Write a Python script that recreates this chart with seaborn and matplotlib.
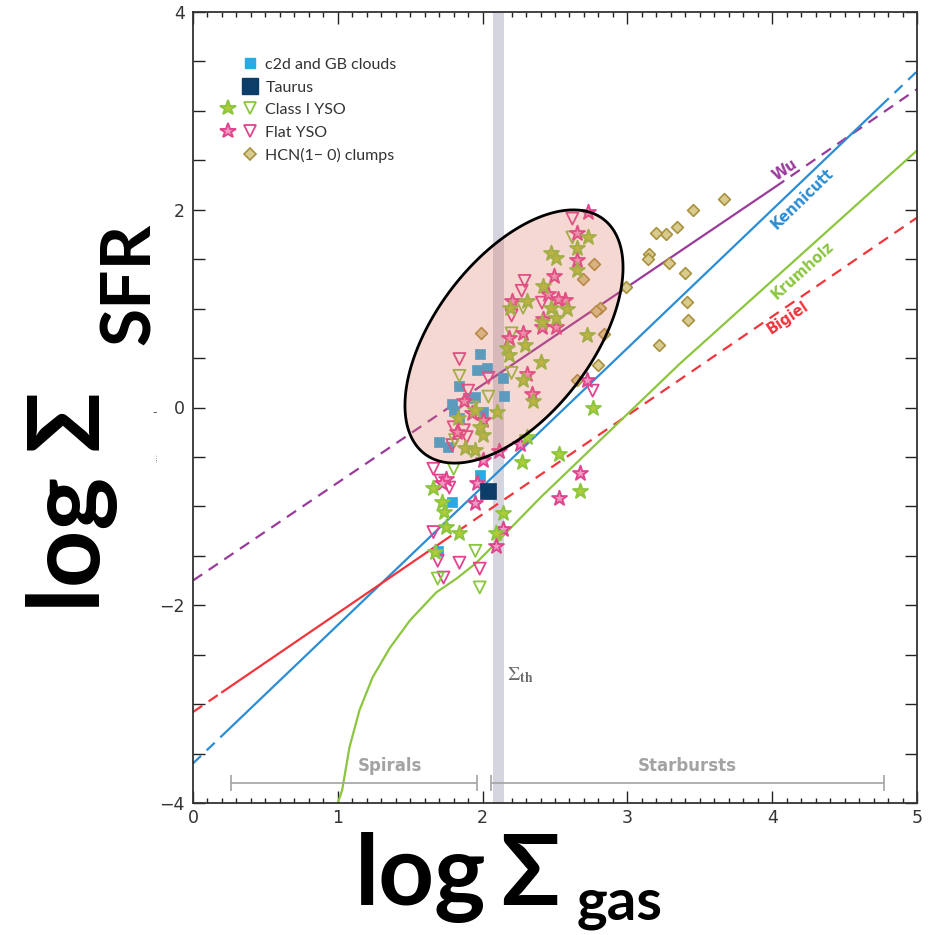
import numpy as np
import pandas as pd
import matplotlib
matplotlib.use("Agg")
import matplotlib.pyplot as plt
import seaborn as sns
from matplotlib.patches import Polygon
from matplotlib.lines import Line2D
from matplotlib.legend_handler import HandlerTuple

# ---------------- data ----------------
c2d_x = [1.98, 1.96, 2.03, 2.14, 1.84, 2.15, 1.95, 1.90, 1.79, 1.80, 2.00, 1.84, 1.70, 1.76, 1.98, 1.79, 1.69]
c2d_y = [0.54, 0.38, 0.40, 0.30, 0.22, 0.12, 0.11, 0.10, 0.04, -0.04, -0.05, -0.11, -0.35, -0.40, -0.68, -0.96, -1.45]

taurus_x = [2.04]
taurus_y = [-0.84]

classI_star_x = [1.66, 1.72, 1.73, 1.75, 1.84, 1.67, 2.14, 2.09, 2.31, 2.27, 2.53, 2.76, 2.67, 2.10, 2.72,
                 1.83, 1.95, 2.00, 1.98, 2.28, 2.35, 1.88, 1.95, 2.17, 2.29, 2.40,
                 2.73, 2.65, 2.47, 2.51, 2.65, 2.42, 2.47, 2.51, 2.58, 2.31, 2.19, 2.41, 2.18]
classI_star_y = [-0.81, -0.96, -1.06, -1.21, -1.27, -1.46, -1.07, -1.27, -0.30, -0.55, -0.47, 0.00, -0.84, -0.05, 0.73,
                 -0.11, -0.03, -0.28, -0.20, 0.28, 0.07, -0.41, -0.43, 0.60, 0.63, 0.46,
                 1.72, 1.61, 1.56, 1.51, 1.39, 1.23, 1.01, 0.91, 1.00, 1.08, 1.01, 0.86, 0.53]

flat_star_x = [1.75, 1.72, 1.96, 1.95, 2.14, 2.09, 2.26, 2.67, 2.53, 2.11, 2.00, 2.72,
               1.87, 2.00, 1.82, 1.93, 2.31, 2.34, 2.18, 2.28,
               2.73, 2.65, 2.65, 2.49, 2.20, 2.57, 2.52, 2.51, 2.42, 2.45, 2.41]
flat_star_y = [-0.72, -0.76, -0.76, -0.97, -1.23, -1.40, -0.37, -0.66, -0.92, -0.44, -0.53, 0.28,
               0.07, -0.13, -0.25, -0.06, 0.34, 0.14, 0.70, 0.75,
               1.98, 1.76, 1.49, 1.33, 1.08, 1.09, 1.10, 0.81, 0.90, 1.15, 0.81]

classI_tri_x = [1.95, 1.69, 1.98, 1.80, 1.84, 2.04, 2.20, 1.93, 1.81, 2.62, 2.28, 2.20]
classI_tri_y = [-1.45, -1.73, -1.82, -0.62, 0.32, 0.11, 0.35, 0.00, -0.33, 1.72, 1.01, 0.75]

flat_tri_x = [1.66, 1.69, 1.84, 1.98, 1.73, 1.77, 1.66, 1.71, 1.84, 2.04, 1.90, 1.80, 1.87, 1.89, 1.79,
              2.76, 2.62, 2.29, 2.27, 2.41, 2.20]
flat_tri_y = [-1.26, -1.55, -1.57, -1.63, -1.72, -0.81, -0.62, -0.74, 0.49, 0.30, 0.17, -0.20, -0.23, -0.30, -0.38,
              0.17, 1.91, 1.28, 1.18, 1.06, 0.93]

hcn_x = [3.67, 3.45, 3.34, 3.27, 3.20, 3.15, 3.14, 3.29, 3.40, 2.99, 3.41, 3.42, 3.22, 2.81, 2.84,
         2.77, 2.69, 2.78, 2.80, 2.65, 1.99]
hcn_y = [2.11, 2.00, 1.83, 1.75, 1.76, 1.55, 1.50, 1.46, 1.36, 1.22, 1.07, 0.89, 0.63, 1.01, 0.74,
         1.45, 1.30, 0.98, 0.43, 0.28, 0.75]

# relations (break points where the line style changes)
wu_x = [0.0, 1.98, 4.02, 5.0]
wu_y = [-1.75, 0.21, 2.23, 3.22]
kenn_x = [0.0, 0.20, 4.75, 5.0]
kenn_y = [-3.60, -3.32, 3.05, 3.40]
bigiel_x = [0.0, 0.20, 1.72, 5.0]
bigiel_y = [-3.08, -2.88, -1.36, 1.92]
krum_x = [1.00, 1.03, 1.08, 1.15, 1.24, 1.36, 1.50, 1.68, 1.82, 1.95, 2.12, 2.40, 3.36, 5.00]
krum_y = [-4.00, -3.87, -3.44, -3.06, -2.73, -2.43, -2.15, -1.87, -1.73, -1.58, -1.33, -0.91, 0.44, 2.60]

x_ticks = [0, 1, 2, 3, 4, 5]
y_ticks = [-4, -2, 0, 2, 4]
y_tick_labels = ["\u22124", "\u22122", "0", "2", "4"]

# ---------------- style ----------------
sns.set_theme(style="ticks")
plt.rcParams["font.family"] = ["DejaVu Sans"]
plt.rcParams["mathtext.fontset"] = "stix"

C_BLUE_SQ = "#2aaae2"
C_TAURUS = "#0c3d68"
C_GREEN = "#8cc63f"
C_GREEN_FACE = "#b2cc35"
C_PINK = "#e2438f"
C_PINK_FACE = "#f29ac4"
C_HCN_FACE = "#d9cb8e"
C_HCN_EDGE = "#a8923f"
C_WU = "#9a3b9c"
C_KENN = "#2b8dd4"
C_BIGIEL = "#f0353b"
TICKFONT = ["Liberation Sans Narrow", "DejaVu Sans"]

W, H = 932, 935
fig = plt.figure(figsize=(W / 100, H / 100), dpi=100)
ax = fig.add_axes([193 / W, 1 - 803 / H, (917 - 193) / W, (803 - 12) / H])
ax.set_facecolor("white")

ax.set_xlim(0, 5)
ax.set_ylim(-4, 4)

# threshold band
ax.axvspan(2.07, 2.15, color="#d5d5df", zorder=1, lw=0)

# relations
def seg(xs, ys, i, j):
    return pd.DataFrame({"x": xs[i:j + 1], "y": ys[i:j + 1]})

LW = 1.6
DASH = (0, (5, 3.5))
for (xs, ys, col, parts) in [
    (wu_x, wu_y, C_WU, [(0, 1, DASH), (1, 2, "-"), (2, 3, DASH)]),
    (kenn_x, kenn_y, C_KENN, [(0, 1, DASH), (1, 2, "-"), (2, 3, DASH)]),
    (bigiel_x, bigiel_y, C_BIGIEL, [(0, 1, DASH), (1, 2, "-"), (2, 3, DASH)]),
]:
    for i, j, ls in parts:
        d = seg(xs, ys, i, j)
        sns.lineplot(data=d, x="x", y="y", sort=False, estimator=None, color=col,
                     lw=LW, linestyle=ls, ax=ax, zorder=2)
sns.lineplot(x=krum_x, y=krum_y, sort=False, estimator=None, color=C_GREEN, lw=LW, ax=ax, zorder=2)

# scatter groups
sns.scatterplot(x=hcn_x, y=hcn_y, marker="D", s=36, color=C_HCN_FACE, edgecolor=C_HCN_EDGE,
                linewidth=1.2, ax=ax, zorder=3)
sns.scatterplot(x=c2d_x, y=c2d_y, marker="s", s=56, color=C_BLUE_SQ, edgecolor=C_BLUE_SQ,
                linewidth=0.5, ax=ax, zorder=3)
sns.scatterplot(x=flat_tri_x, y=flat_tri_y, marker="v", s=75, facecolor="none", edgecolor=C_PINK,
                linewidth=1.3, ax=ax, zorder=3)
sns.scatterplot(x=classI_tri_x, y=classI_tri_y, marker="v", s=75, facecolor="none", edgecolor=C_GREEN,
                linewidth=1.3, ax=ax, zorder=3)
sns.scatterplot(x=flat_star_x, y=flat_star_y, marker="*", s=125, color=C_PINK_FACE, edgecolor=C_PINK,
                linewidth=1.4, ax=ax, zorder=3)
sns.scatterplot(x=classI_star_x, y=classI_star_y, marker="*", s=125, color=C_GREEN_FACE, edgecolor=C_GREEN,
                linewidth=1.4, ax=ax, zorder=3)
sns.scatterplot(x=taurus_x, y=taurus_y, marker="s", s=135, color=C_TAURUS, edgecolor=C_TAURUS,
                linewidth=0.5, ax=ax, zorder=3)

# highlighted ellipse (defined in screen pixels, converted to data units)
px_x = 724 / 5.0
px_y = 791 / 8.0
ecx, ecy = (514 - 193) / px_x, (803 - 336.5) / px_y - 4
ea, eb, eth = 147.5, 78.5, np.deg2rad(52.7)
t = np.linspace(0, 2 * np.pi, 300)
dxp = ea * np.cos(t) * np.cos(eth) - eb * np.sin(t) * np.sin(eth)
dyp = ea * np.cos(t) * np.sin(eth) + eb * np.sin(t) * np.cos(eth)
ell = Polygon(np.column_stack([ecx + dxp / px_x, ecy + dyp / px_y]), closed=True,
              facecolor=(0.88, 0.45, 0.38, 0.28), edgecolor="black", lw=2.0, zorder=5)
ax.add_patch(ell)

# relation labels
lab_kw = dict(fontsize=10.5, fontweight="bold", ha="center", va="center", rotation_mode="anchor")
ax.text(4.09, 2.40, "Wu", rotation=34, color=C_WU, **lab_kw)
ax.text(4.21, 2.11, "Kennicutt", rotation=44, color=C_KENN, **lab_kw)
ax.text(4.21, 1.39, "Krumholz", rotation=42, color=C_GREEN, **lab_kw)
ax.text(4.11, 0.91, "Bigiel", rotation=34, color=C_BIGIEL, **lab_kw)

# threshold label
ax.text(2.26, -2.71, r"$\Sigma_{\mathbf{th}}$", color="#6a6a6a", fontsize=14, ha="center", va="center")

# spirals / starbursts ranges
GR = "#a3a3a3"
ax.errorbar([1.11], [-3.80], xerr=[0.85], fmt="none", ecolor=GR, elinewidth=1.2, capsize=6, capthick=1.2, zorder=2)
ax.errorbar([3.415], [-3.80], xerr=[1.355], fmt="none", ecolor=GR, elinewidth=1.2, capsize=6, capthick=1.2, zorder=2)
ax.text(1.36, -3.63, "Spirals", color=GR, fontsize=12, fontweight="bold", ha="center", va="center", family=TICKFONT)
ax.text(3.41, -3.63, "Starbursts", color=GR, fontsize=12, fontweight="bold", ha="center", va="center", family=TICKFONT)

# axes / ticks
ax.set_xticks(x_ticks)
ax.set_xticklabels([str(v) for v in x_ticks])
ax.set_yticks(y_ticks)
ax.set_yticklabels(y_tick_labels)
ax.set_xticks(np.arange(0, 5.01, 0.1), minor=True)
ax.set_yticks(np.arange(-4, 4.01, 0.5), minor=True)
ax.tick_params(which="both", direction="in", top=True, right=True, color="#222222", width=1.0)
ax.tick_params(axis="x", which="major", length=8.6, pad=4, labelsize=12.5, labelcolor="#333333")
ax.tick_params(axis="x", which="minor", length=3.6)
ax.tick_params(axis="y", which="both", length=8.6)
ax.tick_params(axis="y", which="major", pad=6, labelsize=12.5, labelcolor="#333333")
for lab in ax.get_xticklabels() + ax.get_yticklabels():
    lab.set_family(TICKFONT)
for s in ax.spines.values():
    s.set_color("#333333")
    s.set_linewidth(1.3)
ax.set_xlabel("")
ax.set_ylabel("")
ax.grid(False)

# legend
blank = Line2D([], [], ls="none")
h_c2d = Line2D([], [], marker="s", ls="none", ms=7.5, color=C_BLUE_SQ)
h_tau = Line2D([], [], marker="s", ls="none", ms=11, color=C_TAURUS)
h_gs = Line2D([], [], marker="*", ls="none", ms=11.5, markerfacecolor=C_GREEN_FACE, markeredgecolor=C_GREEN, mew=1.4)
h_gt = Line2D([], [], marker="v", ls="none", ms=8.5, markerfacecolor="none", markeredgecolor=C_GREEN, mew=1.3)
h_ps = Line2D([], [], marker="*", ls="none", ms=11.5, markerfacecolor=C_PINK_FACE, markeredgecolor=C_PINK, mew=1.4)
h_pt = Line2D([], [], marker="v", ls="none", ms=8.5, markerfacecolor="none", markeredgecolor=C_PINK, mew=1.3)
h_hcn = Line2D([], [], marker="D", ls="none", ms=6, markerfacecolor=C_HCN_FACE, markeredgecolor=C_HCN_EDGE, mew=1.2)
handles = [(blank, h_c2d), (blank, h_tau), (h_gs, h_gt), (h_ps, h_pt), (blank, h_hcn)]
labels = ["c2d and GB clouds", "Taurus", "Class I YSO", "Flat YSO", "HCN(1\u2212 0) clumps"]
leg = ax.legend(handles, labels, handler_map={tuple: HandlerTuple(ndivide=None, pad=0.2)},
                loc="upper left", bbox_to_anchor=(0.035, 0.942), frameon=False,
                prop={"family": ["Lato", "DejaVu Sans"], "size": 11.5}, handlelength=2.6,
                handletextpad=0.35, labelspacing=0.52, borderpad=0, borderaxespad=0)
for txt in leg.get_texts():
    txt.set_color("#333333")

# small leftovers near the y axis
fig.text(155 / W, 1 - 413 / H, "-", color="#555555", fontsize=9, ha="center", va="center")
fig.text(155 / W, 1 - 458 / H, "....", color="#777777", fontsize=5, ha="center", va="center", rotation=90)

# big axis titles
BIG = ["Lato", "DejaVu Sans"]
fig.text(355 / W, 1 - 905 / H, "log", fontsize=70, fontweight="bold", family=BIG,
         ha="left", va="baseline", color="black")
fig.text(500 / W, 1 - 905 / H, "\u03a3", fontsize=70, fontweight="bold", family=BIG,
         ha="left", va="baseline", color="black")
fig.text(577 / W, 1 - 919 / H, "gas", fontsize=42, fontweight="bold", family=BIG,
         ha="left", va="baseline", color="black")
fig.text(100 / W, 1 - 612 / H, "log \u03a3", fontsize=72, fontweight="bold", family=BIG,
         ha="left", va="baseline", rotation=90, rotation_mode="anchor", color="black")
fig.text(150 / W, 1 - 345 / H, "SFR", fontsize=50, fontweight="bold", family=BIG,
         ha="left", va="baseline", rotation=90, rotation_mode="anchor", color="black")

fig.savefig("out.png", dpi=100, facecolor="white")
